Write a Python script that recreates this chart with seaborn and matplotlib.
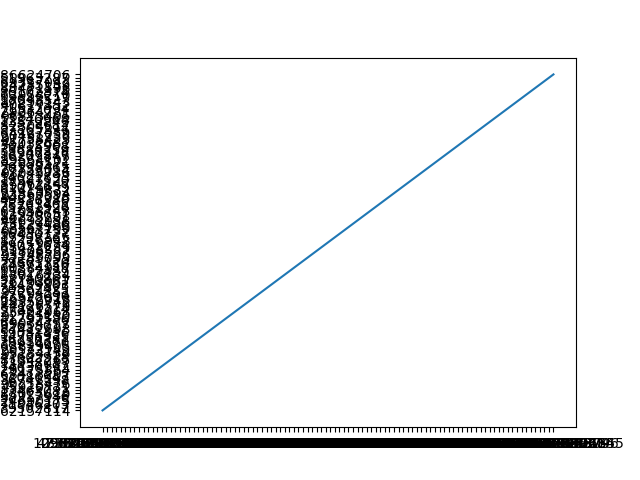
import pandas as pd
import seaborn as sns
import matplotlib
matplotlib.use("Agg")
import matplotlib.pyplot as plt


x_labels = [
    "1095827346102518", "4718203956471832", "2983610475928364", "8362049173568201",
    "5610293847561029", "3847561920384756", "9102837465019283", "6473829105647382",
    "2019384756201938", "7564738291075647", "1829374650182937", "6502918374650291",
    "3928174650392817", "8173645029817364", "4650192837465019", "9283746501928374",
    "5019283746501928", "2837465019283746", "7465019283746501", "1928374650192837",
    "6019283746501927", "3746501928374650", "8501928374650193", "4374650192837465",
    "9650192837465014", "2192837465019283", "7837465019283741", "5465019283746502",
    "1592837465019286", "6237465019283740", "3865019283746509", "8492837465019285",
    "4137465019283743", "9765019283746508", "2392837465019289", "7037465019283747",
    "5665019283746506", "1292837465019284", "6937465019283742", "3565019283746507",
    "8192837465019288", "4837465019283749", "9465019283746504", "2092837465019282",
    "7737465019283745", "5365019283746503", "1992837465019281", "6637465019283746",
    "3265019283746505", "8892837465019287", "4537465019283748", "9165019283746502",
    "2792837465019286", "7437465019283741", "5065019283746509", "1692837465019283",
    "6337465019283744", "3965019283746501", "8592837465019289", "4237465019283747",
    "9865019283746506", "2492837465019280", "7137465019283748", "5765019283746503",
    "1392837465019285", "6037465019283742", "3665019283746508", "8292837465019284",
    "4937465019283740", "9565019283746507", "2192837465019287", "7837465019283743",
    "5465019283746501", "1092837465019289", "6737465019283745", "3365019283746504",
    "8992837465019282", "4637465019283746", "9265019283746508", "2892837465019281",
    "7537465019283749", "5165019283746505", "1792837465019283", "6437465019283747",
    "3065019283746502", "8692837465019286", "4337465019283744", "9965019283746500",
    "2592837465019288", "7237465019283742", "5865019283746506", "1492837465019285",
    "6137465019283749", "3765019283746503", "8392837465019287", "4037465019283741",
    "9665019283746509", "2292837465019284", "7937465019283746", "1058274613906655",
]

y_labels = [
    "62157114", "39502817", "71846203", "24690175", "58317946", "83025619", "17463082", "45920731",
    "90218476", "36741598", "52086943", "68413207", "29175864", "74630192", "13958027", "81347265",
    "47602918", "95184736", "20573149", "63829405", "38914670", "76250381", "14736925", "59081436",
    "87412693", "32658017", "69034752", "41297586", "92765130", "25401968", "57893214", "84126579",
    "18350742", "66972018", "43518690", "97204351", "30867425", "71459803", "26193057", "53740861",
    "88016234", "15627489", "60384917", "34972156", "79561320", "47285093", "93148706", "21806537",
    "65473289", "39051674", "82716948", "17298365", "56430127", "90843752", "28567190", "73129486",
    "44692038", "86375201", "12940657", "61058743", "35781926", "78203465", "49516380", "94237018",
    "23860594", "67419832", "31074659", "85962147", "19387520", "54621893", "98045736", "27753014",
    "70198465", "42836571", "89564102", "16209847", "58947316", "33680259", "76415908", "45032681",
    "91758423", "20491736", "64127059", "37865294", "82304617", "13579842", "57240968", "96813405",
    "29064781", "71532694", "40817352", "87296143", "18643527", "63958210", "36102874", "80471596",
    "24785139", "69317042", "51963287", "86624706",
]

df = pd.DataFrame({"x": x_labels, "y": y_labels})

fig, ax = plt.subplots(figsize=(6.4, 4.8), dpi=100)

# strings on both axes -> every value gets its own tick
sns.lineplot(data=df, x="x", y="y", sort=False, estimator=None, ax=ax)

# seaborn flips a categorical y axis, the reference has the first value at the bottom
if ax.yaxis_inverted():
    ax.invert_yaxis()

ax.set_xlabel("")
ax.set_ylabel("")

fig.savefig("out.png", dpi=100)
